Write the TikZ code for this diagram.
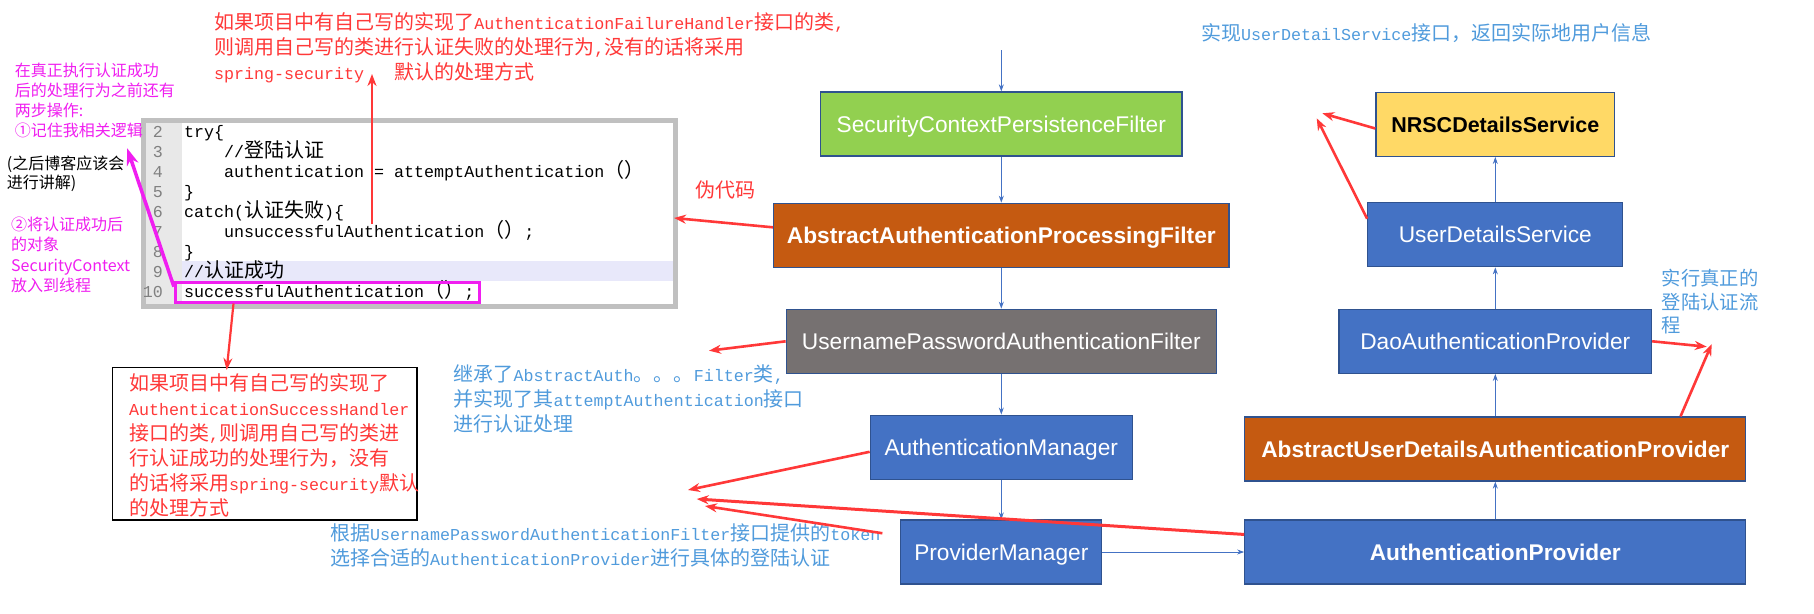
\documentclass[tikz,border=0pt]{standalone}
\usepackage{fontspec}
\setmainfont{Liberation Sans}
\newfontfamily\zhf[Scale=1.2]{Noto Sans CJK SC}
\newfontfamily\zhs{Noto Sans CJK SC}
\newfontfamily\monof{Liberation Mono}
\usetikzlibrary{arrows.meta}
\definecolor{boxborder}{RGB}{47,82,143}
\definecolor{boxblue}{RGB}{68,114,196}
\definecolor{boxgreen}{RGB}{146,208,80}
\definecolor{boxorange}{RGB}{197,90,17}
\definecolor{boxgray}{RGB}{118,113,113}
\definecolor{boxyellow}{RGB}{255,217,102}
\definecolor{notered}{RGB}{255,56,56}
\definecolor{noteblue}{RGB}{80,155,220}
\definecolor{notemag}{RGB}{240,30,240}
\definecolor{codegray}{RGB}{192,192,192}
\definecolor{lnbg}{RGB}{232,232,232}
\definecolor{hlline}{RGB}{232,232,250}
\definecolor{lngray}{RGB}{128,128,128}
\newcommand\annfont{\monof\fontsize{16.67}{25}\selectfont\lineskiplimit=-50pt\lineskip=0pt }
\newcommand\codetxtfont{\monof\fontsize{16.67}{20}\selectfont\lineskiplimit=-50pt\lineskip=0pt }
\newcommand\realfont{\zhs\fontsize{19.3}{23.5}\selectfont\lineskiplimit=-50pt\lineskip=0pt }
\newcommand\stepfont{\zhs\fontsize{16}{20}\selectfont\lineskiplimit=-50pt\lineskip=0pt }
\newcommand\laterfont{\zhs\fontsize{16}{19.5}\selectfont\lineskiplimit=-50pt\lineskip=0pt }
\newcommand\steptwofont{\zhs\fontsize{16}{20.5}\selectfont\lineskiplimit=-50pt\lineskip=0pt }
\newcommand\pseudofont{\zhs\fontsize{20}{25}\selectfont}
\tikzset{
  flowbox/.style={draw=boxborder, line width=1.3pt, inner sep=0pt, text=white,
    text height=20pt, text depth=4pt, minimum height=64pt,
    font=\fontsize{22.7}{22.7}\selectfont},
  boldlbl/.style={font=\fontsize{22.7}{22.7}\selectfont\bfseries},
  flow/.style={draw=boxblue, line width=0.9pt, -{Stealth[length=7pt,width=5pt]}},
  redarrow/.style={draw=notered, line width=2.6pt, -{Stealth[length=12pt,width=9pt]}},
  magarrow/.style={draw=notemag, line width=3.5pt, -{Stealth[length=17pt,width=12pt]}},
  note/.style={inner sep=0pt, anchor=north west, align=left},
}
\begin{document}
\begin{tikzpicture}[x=1pt,y=-1pt]
\fill[white] (0,0) rectangle (1814,613);
\path[use as bounding box] (0,0) rectangle (1814,613);

% ---------- left column ----------
\node[flowbox, fill=boxgreen, minimum width=361.6pt] (scpf) at (1001.3,124) {SecurityContextPersistenceFilter};
\node[flowbox, boldlbl, fill=boxorange, minimum width=455.4pt] (aapf) at (1001.3,235.3) {AbstractAuthenticationProcessingFilter};
\node[flowbox, fill=boxgray, minimum width=430pt] (upaf) at (1001.3,341.3) {UsernamePasswordAuthenticationFilter};
\node[flowbox, fill=boxblue, minimum width=262pt] (am) at (1001.3,447.2) {AuthenticationManager};
\node[flowbox, fill=boxblue, minimum width=201pt] (pm) at (1001.3,552) {ProviderManager};

% ---------- right column ----------
\node[flowbox, fill=boxyellow, text=black, minimum width=238.7pt, font=\fontsize{21.5}{21.5}\selectfont\bfseries] (nrsc) at (1495.3,124.3) {NRSCDetailsService};
\node[flowbox, fill=boxblue, minimum width=255pt, minimum height=64.4pt] (uds) at (1495.3,234.5) {UserDetailsService};
\node[flowbox, fill=boxblue, minimum width=312.4pt] (dao) at (1495.3,341.3) {DaoAuthenticationProvider};
\node[flowbox, boldlbl, fill=boxorange, minimum width=501pt] (audap) at (1495.3,449) {AbstractUserDetailsAuthenticationProvider};
\node[flowbox, boldlbl, fill=boxblue, minimum width=501pt] (ap) at (1495.3,552) {AuthenticationProvider};

% ---------- blue connectors ----------
\coordinate (topin) at (1001.3,50);
\draw[flow] (topin) -- (scpf.north);
\draw[flow] (scpf.south) -- (aapf.north);
\draw[flow] (aapf.south) -- (upaf.north);
\draw[flow] (upaf.south) -- (am.north);
\draw[flow] (am.south) -- (pm.north);
\draw[flow] (pm.east) -- (ap.west);
\draw[flow] (ap.north) -- (audap.south);
\draw[flow] (audap.north) -- (dao.south);
\draw[flow] (dao.north) -- (uds.south);
\draw[flow] (uds.north) -- (nrsc.south);

% ---------- code box ----------
\node[draw=codegray, line width=5pt, fill=white, minimum width=532pt, minimum height=186pt, inner sep=0pt] (codebox) at (409.3,213) {};
\fill[lnbg] (145.8,122.5) rectangle (182,303.5);
\fill[hlline] (182,261) rectangle (672.8,281);
\node[inner sep=0pt, anchor=north east, align=right, text=lngray, font=\codetxtfont] (lnums) at (163,122.8)
  {\strut 2\\3\\4\\5\\6\\7\\8\\9\\10};
\node[note, text=black, font=\codetxtfont] (codetext) at (184,122.8)
  {\strut try\{\\\hspace*{40pt}//{\zhf 登陆认证}\\\hspace*{40pt}authentication = attemptAuthentication{\zhf （）}\\\}\\catch({\zhf 认证失败})\{\\\hspace*{40pt}unsuccessfulAuthentication{\zhf （）};\\\}\\//{\zhf 认证成功}\\successfulAuthentication{\zhf （）};};
\node[draw=notemag, line width=3pt, minimum width=303.6pt, minimum height=20pt, inner sep=0pt] (mrect) at (327.2,292) {};

% ---------- annotations ----------
\node[note, text=notered, font=\annfont] (failnote) at (214,11.8)
  {\strut{\zhf 如果项目中有自己写的实现了}AuthenticationFailureHandler{\zhf 接口的类},\\{\zhf 则调用自己写的类进行认证失败的处理行为},{\zhf 没有的话将采用}\\spring-security\ \ \ {\zhf 默认的处理方式}};

\node[draw=black, line width=1.5pt, minimum width=304.5pt, minimum height=152.4pt, inner sep=0pt] (bb) at (264.75,443.8) {};
\node[note, text=notered, font=\annfont] (succnote) at (129,373.1)
  {\strut{\zhf 如果项目中有自己写的实现了}\\AuthenticationSuccessHandler\\{\zhf 接口的类},{\zhf 则调用自己写的类进}\\{\zhf 行认证成功的处理行为，没有}\\{\zhf 的话将采用}spring-security{\zhf 默认}\\{\zhf 的处理方式}};

\node[note, text=notered, font=\pseudofont] (pseudo) at (695,180.1) {\strut 伪代码};

\node[note, text=noteblue, font=\annfont] (inhnote) at (453.5,363.5)
  {\strut{\zhf 继承了}AbstractAuth{\zhf 。。。}Filter{\zhf 类},\\{\zhf 并实现了其}attemptAuthentication{\zhf 接口}\\{\zhf 进行认证处理}};

\node[note, text=noteblue, font=\annfont] (tokennote) at (330,522.5)
  {\strut{\zhf 根据}UsernamePasswordAuthenticationFilter{\zhf 接口提供的}token\\{\zhf 选择合适的}AuthenticationProvider{\zhf 进行具体的登陆认证}};

\node[note, text=noteblue, font=\annfont] (udsnote) at (1201,23.1)
  {\strut{\zhf 实现}UserDetailService{\zhf 接口，返回实际地用户信息}};

\node[note, text=noteblue, font=\realfont] (realnote) at (1661.7,268.9)
  {\strut 实行真正的\\登陆认证流\\程};

\node[note, text=notemag, font=\stepfont] (stepnote) at (14.7,62.1)
  {\strut 在真正执行认证成功\\后的处理行为之前还有\\两步操作:\\①记住我相关逻辑};
\node[note, text=black, font=\laterfont] (laternote) at (6.7,155.4)
  {\strut(之后博客应该会\\进行讲解)};
\node[note, text=notemag, font=\steptwofont] (step2note) at (11,215.75)
  {\strut ②将认证成功后\\的对象\\SecurityContext\\放入到线程};

% ---------- red / magenta arrows ----------
\coordinate (unsA) at (372,224);
\coordinate (unsB) at (372,74);
\coordinate (tipcode) at (674,218);
\coordinate (tipinh) at (709,350.7);
\coordinate (tipam) at (688,490);
\coordinate (tipap) at (696.7,499);
\coordinate (tippm) at (705,506);
\coordinate (tipnrsc) at (1322.3,113.3);
\coordinate (tipuds) at (1316.7,118.3);
\coordinate (tipdao) at (1706.7,346.7);
\coordinate (tipaudap) at (1711.7,344);
\coordinate (bbtip) at (226.7,370);
\coordinate (tipmag) at (127.2,148.3);

\draw[redarrow, line width=2.2pt] (unsA) -- (unsB);
\draw[redarrow] (aapf.178) -- (tipcode);
\draw[redarrow] (upaf.west) -- (tipinh);
\draw[redarrow] (am.182) -- (tipam);
\draw[redarrow, line width=3pt] (ap.176) -- (tipap);
\draw[redarrow, shorten <=18pt] (pm.171) -- (tippm);
\draw[redarrow] (nrsc.182) -- (tipnrsc);
\draw[redarrow] (uds.173) -- (tipuds);
\draw[redarrow] (dao.east) -- (tipdao);
\draw[redarrow] (audap.10.7) -- (tipaudap);
\draw[redarrow, line width=2.2pt] (mrect.187) -- (bbtip);
\draw[magarrow] (mrect.178) -- (tipmag);
\end{tikzpicture}
\end{document}
